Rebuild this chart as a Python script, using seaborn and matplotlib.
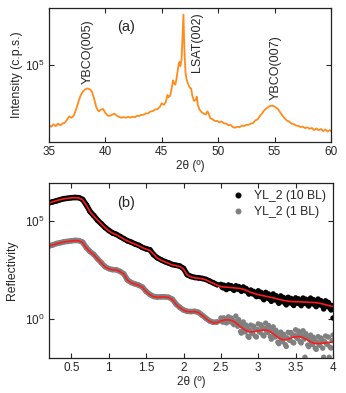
import numpy as np
import pandas as pd
import matplotlib
matplotlib.use("Agg")
import matplotlib.pyplot as plt
import seaborn as sns
from matplotlib.ticker import FixedLocator, LogFormatterSciNotation, NullLocator
from matplotlib.lines import Line2D

# ---------------- panel (a): XRD theta-2theta scan ----------------
xrd_2theta = [35.0, 35.2, 35.4, 35.6, 35.8, 36.0, 36.2, 36.4, 36.6, 36.8, 37.0, 37.2, 37.4, 37.6, 37.8,
              38.0, 38.2, 38.4, 38.6, 38.8, 39.0, 39.2, 39.4, 39.6, 39.8, 40.0, 40.2, 40.4, 40.6, 40.8,
              41.0, 41.2, 41.4, 41.6, 41.8, 42.0, 42.2, 42.4, 42.6, 42.8, 43.0, 43.2, 43.4, 43.6, 43.8,
              44.0, 44.2, 44.4, 44.6, 44.8, 45.0, 45.1, 45.2, 45.35, 45.5, 45.6, 45.75, 45.9, 46.0, 46.1,
              46.2, 46.3, 46.45, 46.55, 46.65, 46.75, 46.85, 46.92, 47.0, 47.1, 47.2, 47.35, 47.5, 47.6,
              47.7, 47.85, 48.0, 48.1, 48.2, 48.35, 48.5, 48.7, 48.9, 49.05, 49.15, 49.3, 49.5, 49.7,
              49.9, 50.1, 50.3, 50.5, 50.7, 50.9, 51.1, 51.3, 51.5, 51.7, 51.9, 52.1, 52.3, 52.5, 52.7,
              52.9, 53.1, 53.3, 53.5, 53.7, 53.9, 54.1, 54.3, 54.5, 54.7, 54.9, 55.1, 55.3, 55.5, 55.7,
              55.9, 56.1, 56.3, 56.5, 56.7, 56.9, 57.1, 57.3, 57.5, 57.7, 57.9, 58.1, 58.3, 58.5, 58.7,
              58.9, 59.1, 59.3, 59.5, 59.7, 59.9, 60.0]
xrd_cps = [27900, 27200, 28600, 27500, 29000, 28000, 29100, 29500, 31600, 33800, 32800, 34500, 38900,
           45700, 52500, 56900, 59600, 61100, 60000, 57000, 49000, 40700, 37600, 38900, 39500, 36300,
           34400, 34200, 35100, 35800, 34500, 33500, 32900, 33300, 32900, 33400, 33000, 33600, 33200,
           34300, 34100, 34900, 35000, 36000, 36100, 37500, 37800, 39000, 39400, 41000, 44700, 43700,
           43200, 45700, 53100, 50700, 52500, 63100, 72400, 67600, 66100, 74100, 95500, 107000, 97700,
           112000, 200000, 290000, 141000, 85100, 74100, 66100, 61700, 61000, 52500, 46800, 47900,
           51300, 42700, 38900, 37200, 35900, 35100, 37600, 35900, 32500, 31800, 30700, 30700, 29800,
           30400, 29200, 29000, 28100, 28200, 27000, 26600, 27200, 26900, 27800, 27600, 28300, 28300,
           29000, 29400, 31100, 31800, 34100, 36100, 38700, 40100, 41700, 42300, 42100, 40900, 39400,
           36700, 34300, 32400, 30900, 30300, 29000, 28700, 27800, 27700, 27000, 27200, 26400, 26800,
           26000, 26500, 25300, 26200, 25200, 25900, 24800, 25600, 24600, 25300, 24700]

# ---------------- panel (b): X-ray reflectivity ----------------
xrr_meas_2theta = [0.20, 0.25, 0.30, 0.35, 0.40, 0.45, 0.50, 0.55, 0.60, 0.65, 0.70, 0.75, 0.80, 0.85,
                   0.90, 0.95, 1.00, 1.05, 1.10, 1.15, 1.20, 1.25, 1.30, 1.35, 1.40, 1.45, 1.50, 1.55,
                   1.60, 1.65, 1.70, 1.75, 1.80, 1.85, 1.90, 1.95, 2.00, 2.05, 2.10, 2.15, 2.20, 2.25,
                   2.30, 2.35, 2.40, 2.45,
                   2.500, 2.525, 2.550, 2.575, 2.600, 2.625, 2.650, 2.675, 2.700, 2.725, 2.750, 2.775,
                   2.800, 2.825, 2.850, 2.875, 2.900, 2.925, 2.950, 2.975, 3.000, 3.025, 3.050, 3.075,
                   3.100, 3.125, 3.150, 3.175, 3.200, 3.225, 3.250, 3.275, 3.300, 3.325, 3.350, 3.375,
                   3.400, 3.425, 3.450, 3.475, 3.500, 3.525, 3.550, 3.575, 3.600, 3.625, 3.650, 3.675,
                   3.700, 3.725, 3.750, 3.775, 3.800, 3.825, 3.850, 3.875, 3.900, 3.925, 3.950, 3.975,
                   4.000,
                   2.5125, 2.5375, 2.5625, 2.5875, 2.6125, 2.6375, 2.6625, 2.6875, 2.7125, 2.7375,
                   2.7625, 2.7875, 2.8125, 2.8375, 2.8625, 2.8875, 2.9125, 2.9375, 2.9625, 2.9875,
                   3.0125, 3.0375, 3.0625, 3.0875, 3.1125, 3.1375, 3.1625, 3.1875, 3.2125, 3.2375,
                   3.2625, 3.2875, 3.3125, 3.3375, 3.3625, 3.3875, 3.4125, 3.4375, 3.4625, 3.4875,
                   3.5125, 3.5375, 3.5625, 3.5875, 3.6125, 3.6375, 3.6625, 3.6875, 3.7125, 3.7375,
                   3.7625, 3.7875, 3.8125, 3.8375, 3.8625, 3.8875, 3.9125, 3.9375, 3.9625, 3.9875]
# log10 reflectivity, YL_2 (10 BL)
xrr_10bl_log = [5.93, 5.98, 6.03, 6.09, 6.14, 6.16, 6.19, 6.20, 6.19, 6.10, 5.82, 5.48, 5.27, 5.04,
                4.86, 4.67, 4.52, 4.39, 4.32, 4.21, 4.10, 3.99, 3.92, 3.83, 3.76, 3.65, 3.58, 3.53,
                3.28, 3.12, 3.02, 2.93, 2.86, 2.78, 2.74, 2.70, 2.58, 2.26, 2.17, 2.12, 2.10, 2.07,
                2.02, 1.93, 1.84, 1.75,
                1.77, 1.59, 1.67, 1.50, 1.74, 1.56, 1.64, 1.46, 1.70, 1.52, 1.60, 1.41,
                1.64, 1.44, 1.49, 1.27, 1.48, 1.28, 1.34, 1.14, 1.44, 1.14, 1.27, 0.98,
                1.36, 1.06, 1.19, 0.90, 1.28, 0.97, 1.10, 0.80, 1.18, 0.88, 1.01, 0.72,
                1.11, 0.82, 0.96, 0.69, 1.08, 0.80, 0.95, 0.68, 1.07, 0.79, 0.93, 0.66,
                1.07, 0.77, 0.91, 0.63, 1.02, 0.72, 0.85, 0.51, 0.93, 0.63, 0.75, 0.46,
                0.05,
                1.64, 1.73, 1.54, 1.64, 1.61, 1.70, 1.51, 1.61, 1.57, 1.66,
                1.46, 1.55, 1.50, 1.56, 1.34, 1.40, 1.34, 1.41, 1.20, 1.28,
                1.21, 1.36, 1.05, 1.21, 1.13, 1.28, 0.97, 1.13, 1.05, 1.19,
                0.88, 1.03, 0.95, 1.10, 0.79, 0.96, 0.89, 1.05, 0.75, 0.92,
                0.86, 1.03, 0.74, 0.91, 0.85, 1.01, 0.72, 0.89, 0.83, 0.99,
                0.70, 0.87, 0.79, 0.94, 0.63, 0.79, 0.70, 0.85, 0.53, 0.69]
# log10 reflectivity, YL_2 (1 BL)
xrr_1bl_log = [3.73, 3.78, 3.85, 3.89, 3.94, 3.96, 3.99, 4.01, 4.00, 3.92, 3.64, 3.44, 3.29, 3.07,
               2.87, 2.67, 2.57, 2.52, 2.51, 2.43, 2.31, 1.99, 1.86, 1.79, 1.73, 1.63, 1.41, 1.25,
               1.15, 1.12, 1.13, 1.13, 1.11, 1.01, 0.76, 0.59, 0.46, 0.39, 0.38, 0.39, 0.34, 0.19,
               0.04, -0.10, -0.17, -0.15,
               0.05, -0.16, 0.01, -0.20, 0.11, -0.14, -0.02, -0.29, 0.15, -0.37, -0.20, -0.72,
               -0.15, -0.66, -0.47, -0.94, -0.31, -0.75, -0.49, -0.92, -0.25, -0.68, -0.42, -0.87,
               -0.21, -0.69, -0.47, -1.03, -0.40, -0.92, -0.75, -1.26, -0.67, -1.15, -0.92, -1.40,
               -0.68, -1.09, -0.80, -1.22, -0.55, -1.00, -0.75, -1.22, -0.60, -1.95, -0.90, -1.41,
               -0.82, -1.30, -1.09, -1.55, -0.90, -1.35, -1.09, -1.95, -0.87, -1.31, -1.95, -1.48,
               -0.82,
               -0.11, 0.06, -0.17, 0.00, -0.07, 0.05, -0.23, -0.13, -0.29, -0.03,
               -0.64, -0.38, -0.58, -0.31, -0.88, -0.57, -0.71, -0.37, -0.88, -0.53,
               -0.64, -0.30, -0.82, -0.48, -0.63, -0.33, -0.90, -0.63, -0.84, -0.58,
               -1.18, -0.91, -1.09, -0.78, -1.31, -0.96, -1.06, -0.69, -1.19, -0.83,
               -0.95, -0.62, -1.16, -0.86, -1.03, -0.75, -1.33, -1.06, -1.24, -0.94,
               -1.49, -1.17, -1.30, -0.97, -1.49, -1.15, -1.26, -0.92, -1.44, -1.10]

xrr_fit_2theta = [0.20, 0.25, 0.30, 0.35, 0.40, 0.45, 0.50, 0.55, 0.60, 0.65, 0.70, 0.75, 0.80, 0.85,
                  0.90, 0.95, 1.00, 1.05, 1.10, 1.15, 1.20, 1.25, 1.30, 1.35, 1.40, 1.45, 1.50, 1.55,
                  1.60, 1.65, 1.70, 1.75, 1.80, 1.85, 1.90, 1.95, 2.00, 2.05, 2.10, 2.15, 2.20, 2.25,
                  2.30, 2.35, 2.40, 2.45, 2.50, 2.55, 2.60, 2.65, 2.70, 2.75, 2.80, 2.85, 2.90, 2.95,
                  3.00, 3.05, 3.10, 3.15, 3.20, 3.25, 3.30, 3.35, 3.40, 3.45, 3.50, 3.55, 3.60, 3.65,
                  3.70, 3.75, 3.80, 3.85, 3.90, 3.95, 4.00]
fit_10bl_log = [5.92, 5.98, 6.04, 6.09, 6.13, 6.16, 6.18, 6.19, 6.18, 6.08, 5.80, 5.47, 5.25, 5.05,
                4.85, 4.66, 4.50, 4.38, 4.30, 4.20, 4.08, 3.98, 3.90, 3.82, 3.74, 3.64, 3.56, 3.50,
                3.30, 3.10, 3.00, 2.92, 2.84, 2.76, 2.72, 2.68, 2.55, 2.25, 2.15, 2.10, 2.08, 2.05,
                2.00, 1.90, 1.82, 1.72, 1.65, 1.63, 1.62, 1.60, 1.58, 1.56, 1.52, 1.45, 1.36, 1.30,
                1.24, 1.20, 1.16, 1.12, 1.08, 1.03, 0.98, 0.94, 0.91, 0.89, 0.88, 0.88, 0.87, 0.86,
                0.85, 0.84, 0.82, 0.78, 0.73, 0.68, 0.64]
fit_1bl_log = [3.72, 3.78, 3.84, 3.89, 3.93, 3.96, 3.98, 4.00, 3.99, 3.90, 3.62, 3.43, 3.28, 3.06,
               2.86, 2.66, 2.56, 2.51, 2.50, 2.42, 2.30, 1.98, 1.85, 1.78, 1.72, 1.62, 1.40, 1.24,
               1.14, 1.11, 1.12, 1.12, 1.10, 1.00, 0.75, 0.58, 0.45, 0.38, 0.37, 0.38, 0.33, 0.18,
               0.02, -0.12, -0.19, -0.18, -0.10, -0.05, -0.04, -0.08, -0.20, -0.35, -0.50, -0.62,
               -0.66, -0.64, -0.60, -0.57, -0.56, -0.62, -0.75, -0.90, -1.02, -1.07, -1.03, -0.95,
               -0.90, -0.90, -0.95, -1.05, -1.17, -1.24, -1.25, -1.24, -1.22, -1.19, -1.17]

labels = ["YL_2 (10 BL)", "YL_2 (1 BL)"]

# ---------------- style ----------------
sns.set_theme(style="ticks")
plt.rcParams["font.family"] = ["Liberation Sans", "DejaVu Sans"]
plt.rcParams["mathtext.fontset"] = "custom"
plt.rcParams["mathtext.rm"] = "Liberation Sans"
plt.rcParams["mathtext.it"] = "Liberation Sans"
plt.rcParams["xtick.direction"] = "in"
plt.rcParams["ytick.direction"] = "in"
plt.rcParams["axes.linewidth"] = 0.9

W, H = 346, 393
fig = plt.figure(figsize=(W / 100, H / 100), dpi=100)
ax1 = fig.add_axes([49 / W, 1 - 142 / H, 282 / W, 134 / H])
ax2 = fig.add_axes([49 / W, 1 - 358 / H, 284 / W, 175 / H])

# panel (a)
df_a = pd.DataFrame({"tt": xrd_2theta, "I": xrd_cps})
sns.lineplot(data=df_a, x="tt", y="I", ax=ax1, color="#FF8C1A", linewidth=1.3, legend=False)
ax1.set_yscale("log")
ax1.set_xlim(35, 60)
ax1.set_ylim(10 ** 4.294, 10 ** 5.523)
ax1.set_xticks([35, 40, 45, 50, 55, 60])
ax1.yaxis.set_major_locator(FixedLocator([1e5]))
ax1.yaxis.set_major_formatter(LogFormatterSciNotation())
ax1.yaxis.set_minor_locator(NullLocator())
ax1.set_xlabel("2θ (º)", fontsize=8.5, labelpad=1)
ax1.set_ylabel("Intensity (c.p.s.)", fontsize=8.8, labelpad=2)
ax1.text(0.138, 0.434, "YBCO(005)", rotation=90, transform=ax1.transAxes, ha="center", va="bottom", fontsize=9)
ax1.text(0.525, 0.522, "LSAT(002)", rotation=90, transform=ax1.transAxes, ha="center", va="bottom", fontsize=9)
ax1.text(0.805, 0.316, "YBCO(007)", rotation=90, transform=ax1.transAxes, ha="center", va="bottom", fontsize=9)
ax1.text(0.273, 0.86, "(a)", transform=ax1.transAxes, ha="center", va="center", fontsize=10.5)

# panel (b)
meas = pd.DataFrame({
    "tt": xrr_meas_2theta * 2,
    "R": list(10 ** np.array(xrr_10bl_log)) + list(10 ** np.array(xrr_1bl_log)),
    "sample": [labels[0]] * len(xrr_meas_2theta) + [labels[1]] * len(xrr_meas_2theta),
})
fits = pd.DataFrame({
    "tt": xrr_fit_2theta * 2,
    "R": list(10 ** np.array(fit_10bl_log)) + list(10 ** np.array(fit_1bl_log)),
    "sample": [labels[0]] * len(xrr_fit_2theta) + [labels[1]] * len(xrr_fit_2theta),
})
pal = {labels[0]: "black", labels[1]: "#808080"}
# dense low-angle part drawn as a continuous band of points
smooth_part = meas[meas["tt"] < 2.48]
sns.lineplot(data=smooth_part, x="tt", y="R", hue="sample", palette=pal, ax=ax2, linewidth=4.0,
             legend=False, sort=False)
sns.scatterplot(data=meas, x="tt", y="R", hue="sample", palette=pal, ax=ax2, s=15,
                edgecolor="none", legend=False)
for lab in labels:
    sub = fits[fits["sample"] == lab]
    sns.lineplot(data=sub, x="tt", y="R", ax=ax2, color="#FF1A1A", linewidth=1.2, legend=False)
ax2.set_yscale("log")
ax2.set_xlim(0.2, 4.0)
ax2.set_ylim(10 ** -1.99, 10 ** 6.94)
ax2.set_xticks([0.5, 1, 1.5, 2, 2.5, 3, 3.5, 4])
ax2.set_xticklabels(["0.5", "1", "1.5", "2", "2.5", "3", "3.5", "4"])
ax2.yaxis.set_major_locator(FixedLocator([1.0, 1e5]))
ax2.yaxis.set_major_formatter(LogFormatterSciNotation(base=10))
ax2.yaxis.set_minor_locator(NullLocator())
ax2.set_xlabel("2θ (º)", fontsize=8.5, labelpad=1)
ax2.set_ylabel("Reflectivity", fontsize=8.8, labelpad=5)
ax2.text(0.271, 0.886, "(b)", transform=ax2.transAxes, ha="center", va="center", fontsize=10.5)

handles = [Line2D([], [], marker="o", linestyle="none", color=pal[l], markersize=3.3) for l in labels]
ax2.legend(handles, labels, loc="upper right", frameon=False, fontsize=8.8, handletextpad=0.5,
           borderaxespad=0.2, labelspacing=0.3, handlelength=1.5, bbox_to_anchor=(1.0, 1.0))

for ax in (ax1, ax2):
    ax.tick_params(axis="both", which="major", direction="in", length=3.5, width=0.8,
                   top=True, right=True, labelsize=8.5, pad=3)
    for s in ax.spines.values():
        s.set_color("#222222")

fig.savefig("out.png", dpi=100)
